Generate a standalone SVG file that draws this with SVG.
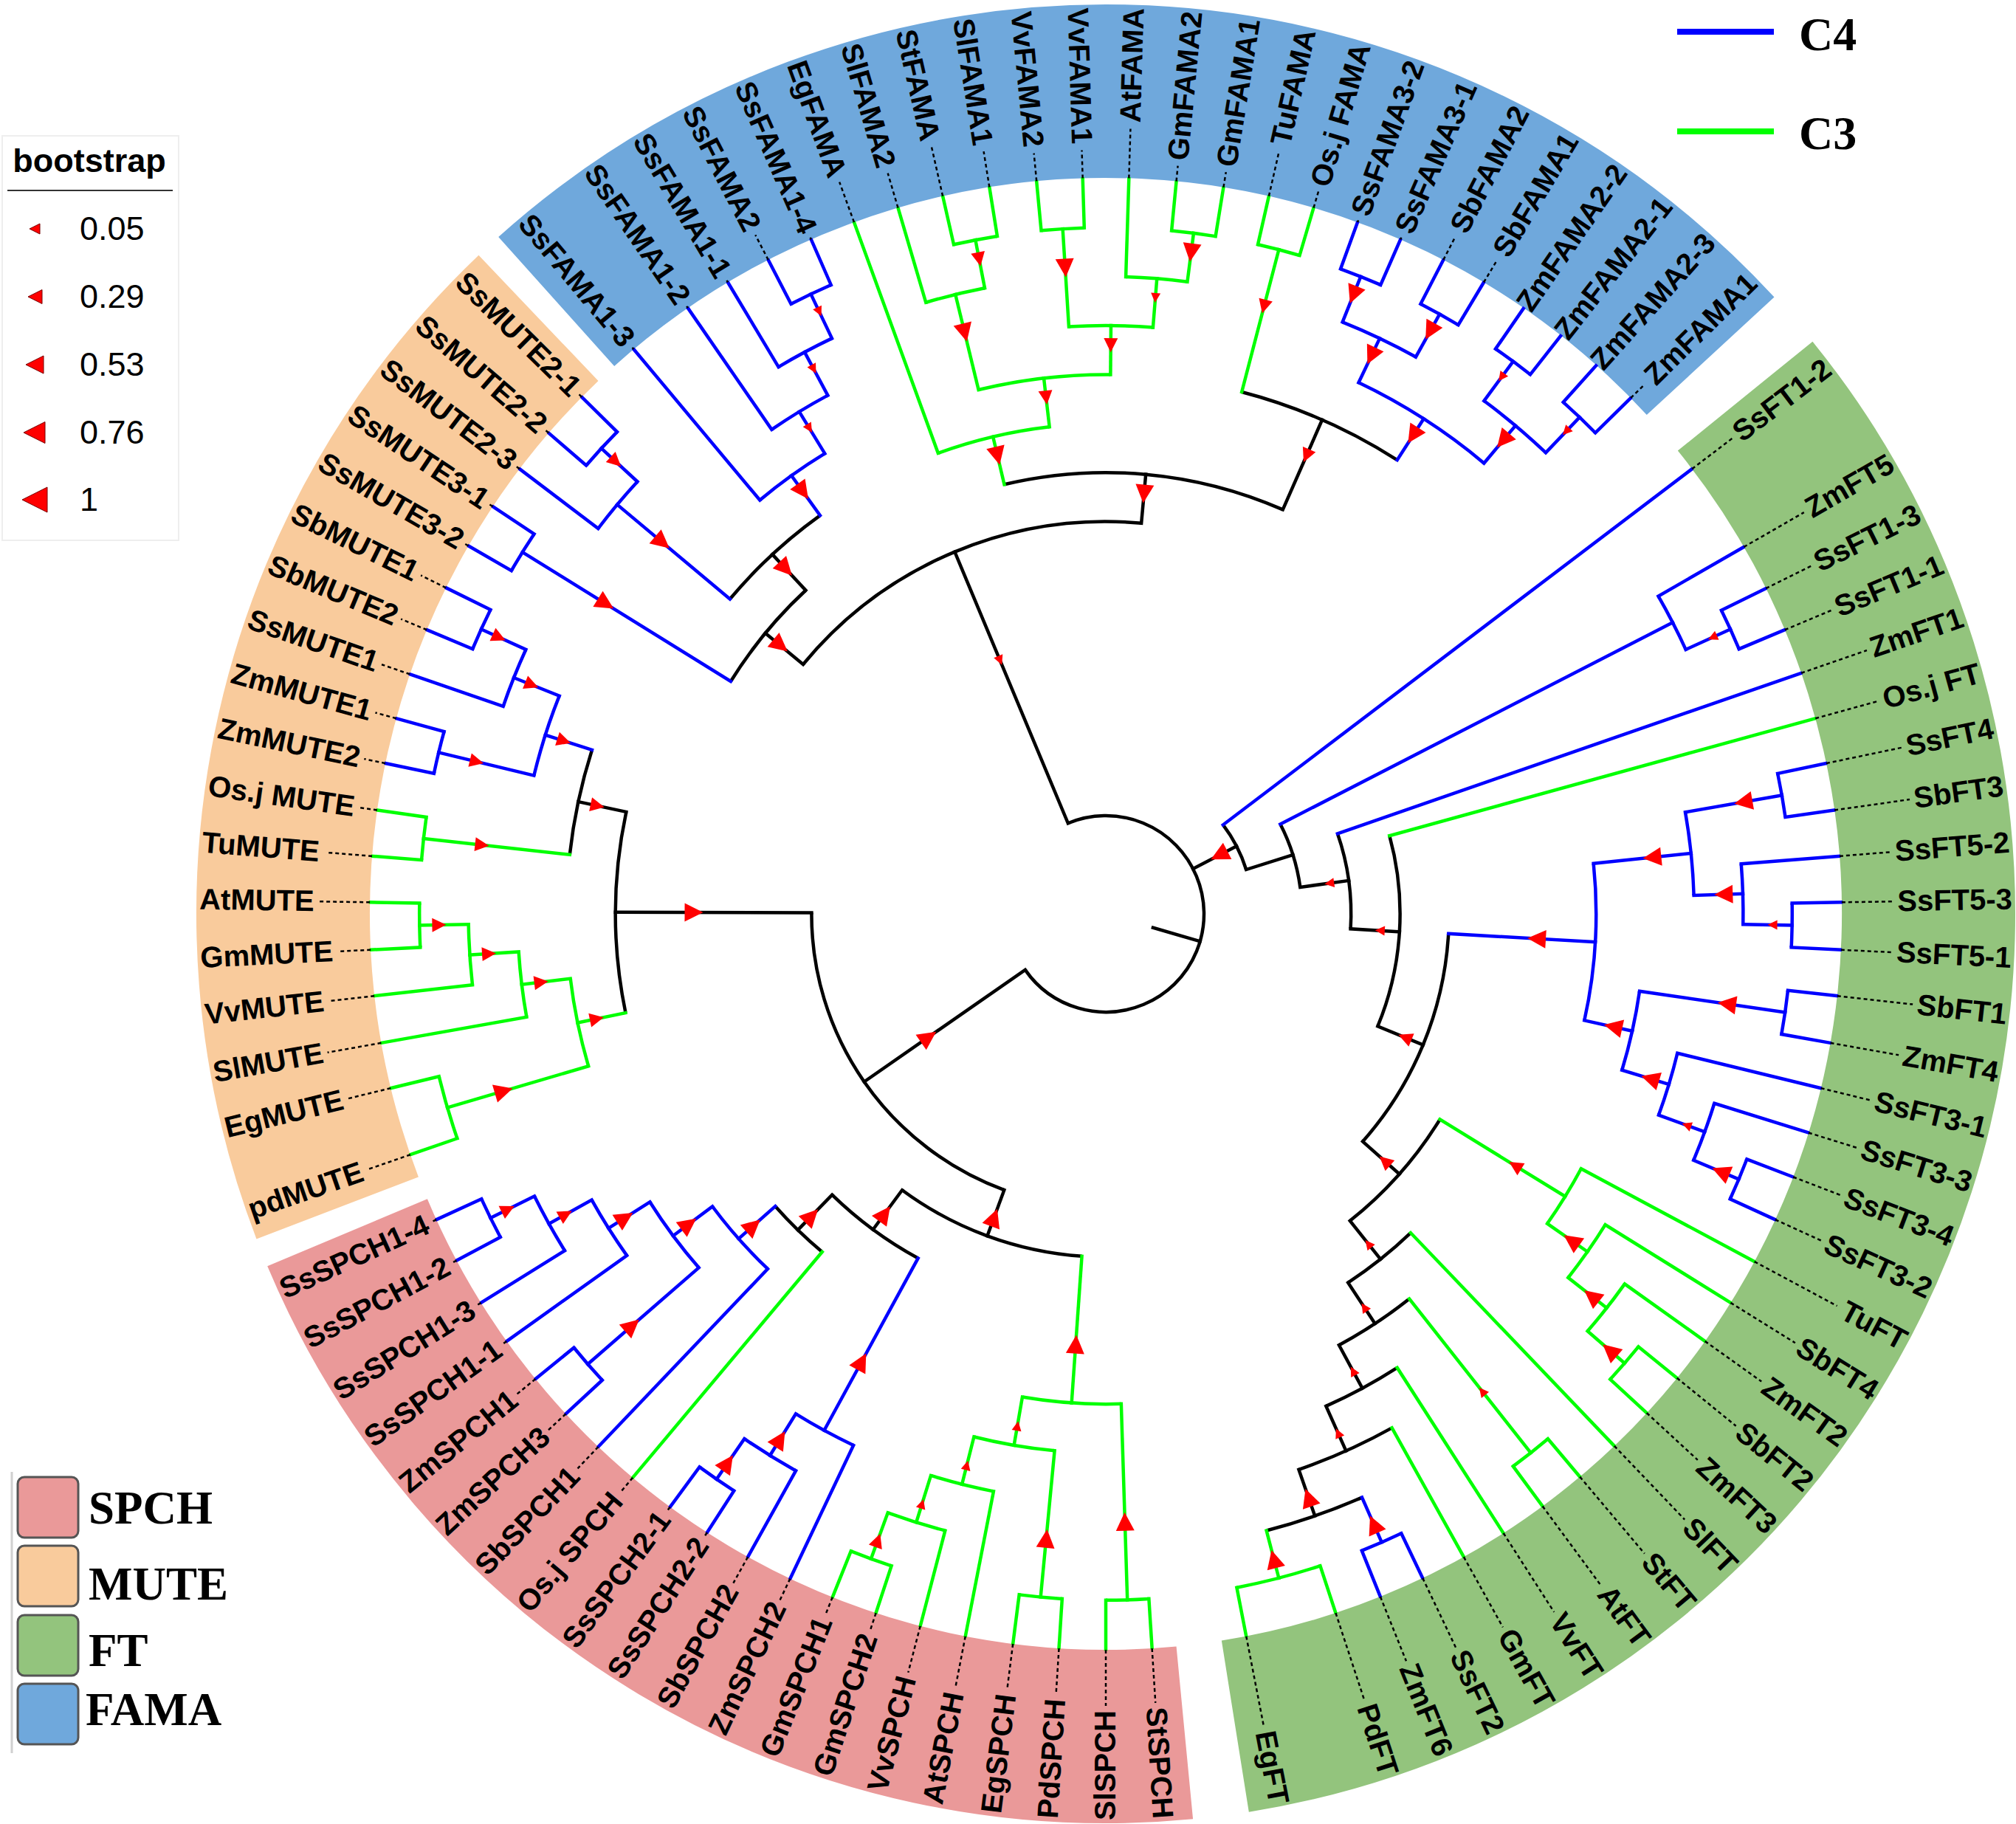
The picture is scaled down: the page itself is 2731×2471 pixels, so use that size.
<svg xmlns="http://www.w3.org/2000/svg" width="2731" height="2471" viewBox="0 0 2731 2471">
<defs>
<style>
.dl{fill:none;stroke:#000;stroke-width:2.5;stroke-dasharray:5 4}
.lb{font-family:"Liberation Sans",Arial,sans-serif;font-weight:bold;font-size:40px;fill:#000}
.R{text-anchor:end}
.arc{fill:none;stroke-width:4.5}
.br{fill:none;stroke-width:4.5;stroke-linecap:square}
.k{stroke:#000}.b{stroke:#0000ff}.g{stroke:#00ff00}
.band{fill:none;stroke-width:235}
.leg{font-family:"Liberation Serif","Times New Roman",serif;font-weight:bold;fill:#000}
.bs{font-family:"Liberation Sans",Arial,sans-serif;fill:#000}
</style>
<polygon id="tL" points="-12.5,0 12.5,-12.5 12.5,12.5" fill="#ff0000"/>
<polygon id="tM" points="-9.5,0 9.5,-9.5 9.5,9.5" fill="#ff0000"/>
<polygon id="tS" points="-6.5,0 6.5,-6.5 6.5,6.5" fill="#ff0000"/>
</defs>
<rect width="2731" height="2471" fill="#fff"/>
<g transform="translate(1498 1238)">
<g id="bands" class="band">
<circle r="1114.5" stroke="#F9CB9C" pathLength="360" stroke-dasharray="67.35 360" transform="rotate(159.05)"/>
<circle r="1114.5" stroke="#6FA8DC" pathLength="360" stroke-dasharray="89.2 360" transform="rotate(228.1)"/>
<circle r="1114.5" stroke="#93C47D" pathLength="360" stroke-dasharray="119.95 360" transform="rotate(321)"/>
<circle r="1114.5" stroke="#EA9999" pathLength="360" stroke-dasharray="72.7 360" transform="rotate(84.5)"/>
</g>
<g id="connectors">
<g class="br k">
<path d="M66.6 0H133" transform="rotate(16.3)"/>
<path d="M133 0H531.4" transform="rotate(247.35)"/>
<path d="M133 0H199.4" transform="rotate(332.65)"/>
<path d="M133 0H398.6" transform="rotate(145.2)"/>
<path d="M531.4 0H597.8" transform="rotate(219.5)"/>
<path d="M597.8 0H664.2" transform="rotate(227.15)"/>
<path d="M531.4 0H597.8" transform="rotate(275.2)"/>
<path d="M597.8 0H730.6" transform="rotate(293.65)"/>
<path d="M398.6 0H664.2" transform="rotate(180.2)"/>
<path d="M664.2 0H730.6" transform="rotate(192)"/>
<path d="M398.6 0H465" transform="rotate(110.2)"/>
<path d="M465 0H531.4" transform="rotate(126.4)"/>
<path d="M531.4 0H597.8" transform="rotate(134.25)"/>
<path d="M199.4 0H265.8" transform="rotate(342.5)"/>
<path d="M265.8 0H332.2" transform="rotate(352.2)"/>
<path d="M332.2 0H398.6" transform="rotate(3.5)"/>
<path d="M398.6 0H465" transform="rotate(22.45)"/>
<path d="M465 0H531.4" transform="rotate(41.55)"/>
<path d="M531.4 0H597.8" transform="rotate(51.5)"/>
<path d="M597.8 0H664.2" transform="rotate(56.7)"/>
<path d="M664.2 0H730.6" transform="rotate(61.6)"/>
<path d="M730.6 0H797" transform="rotate(65.9)"/>
<path d="M797 0H863.4" transform="rotate(70.85)"/>
</g>
<g class="arc k">
<circle r="133" pathLength="360" stroke-dasharray="257.85 360" transform="rotate(247.35)"/>
<circle r="531.4" pathLength="360" stroke-dasharray="55.7 360" transform="rotate(219.5)"/>
<circle r="597.8" pathLength="360" stroke-dasharray="15.35 360" transform="rotate(211.8)"/>
<circle r="664.2" pathLength="360" stroke-dasharray="14.4 360" transform="rotate(219.95)"/>
<circle r="597.8" pathLength="360" stroke-dasharray="36.95 360" transform="rotate(256.7)"/>
<circle r="730.6" pathLength="360" stroke-dasharray="18.1 360" transform="rotate(284.6)"/>
<circle r="398.6" pathLength="360" stroke-dasharray="70 360" transform="rotate(110.2)"/>
<circle r="664.2" pathLength="360" stroke-dasharray="23.65 360" transform="rotate(168.35)"/>
<circle r="730.6" pathLength="360" stroke-dasharray="11.4 360" transform="rotate(186.3)"/>
<circle r="465" pathLength="360" stroke-dasharray="32.4 360" transform="rotate(94)"/>
<circle r="531.4" pathLength="360" stroke-dasharray="15.65 360" transform="rotate(118.6)"/>
<circle r="597.8" pathLength="360" stroke-dasharray="8.5 360" transform="rotate(130)"/>
<circle r="199.4" pathLength="360" stroke-dasharray="19.7 360" transform="rotate(322.8)"/>
<circle r="265.8" pathLength="360" stroke-dasharray="19.4 360" transform="rotate(332.8)"/>
<circle r="332.2" pathLength="360" stroke-dasharray="22.6 360" transform="rotate(340.9)"/>
<circle r="398.6" pathLength="360" stroke-dasharray="37.85 360" transform="rotate(344.6)"/>
<circle r="465" pathLength="360" stroke-dasharray="38.25 360" transform="rotate(3.3)"/>
<circle r="531.4" pathLength="360" stroke-dasharray="19.9 360" transform="rotate(31.6)"/>
<circle r="597.8" pathLength="360" stroke-dasharray="10.4 360" transform="rotate(46.3)"/>
<circle r="664.2" pathLength="360" stroke-dasharray="9.85 360" transform="rotate(51.75)"/>
<circle r="730.6" pathLength="360" stroke-dasharray="8.6 360" transform="rotate(57.3)"/>
<circle r="797" pathLength="360" stroke-dasharray="9.95 360" transform="rotate(60.9)"/>
<circle r="863.4" pathLength="360" stroke-dasharray="9.1 360" transform="rotate(66.3)"/>
</g>
<g class="br b">
<path d="M597.8 0H929.8" transform="rotate(211.8)"/>
<path d="M664.2 0H863.4" transform="rotate(219.95)"/>
<path d="M863.4 0H929.8" transform="rotate(222.7)"/>
<path d="M664.2 0H730.6" transform="rotate(234.35)"/>
<path d="M730.6 0H797" transform="rotate(238.6)"/>
<path d="M797 0H863.4" transform="rotate(241.8)"/>
<path d="M863.4 0H929.8" transform="rotate(244.55)"/>
<path d="M730.6 0H797" transform="rotate(302.7)"/>
<path d="M797 0H863.4" transform="rotate(295.45)"/>
<path d="M797 0H863.4" transform="rotate(310)"/>
<path d="M863.4 0H929.8" transform="rotate(291.8)"/>
<path d="M863.4 0H929.8" transform="rotate(299.1)"/>
<path d="M863.4 0H929.8" transform="rotate(306.4)"/>
<path d="M863.4 0H929.8" transform="rotate(313.65)"/>
<path d="M730.6 0H797" transform="rotate(197.7)"/>
<path d="M797 0H929.8" transform="rotate(193.6)"/>
<path d="M797 0H863.4" transform="rotate(201.75)"/>
<path d="M863.4 0H929.8" transform="rotate(204.5)"/>
<path d="M531.4 0H797" transform="rotate(118.6)"/>
<path d="M797 0H863.4" transform="rotate(121.8)"/>
<path d="M863.4 0H929.8" transform="rotate(124.55)"/>
<path d="M597.8 0H664.2" transform="rotate(138.5)"/>
<path d="M664.2 0H730.6" transform="rotate(143.35)"/>
<path d="M730.6 0H929.8" transform="rotate(139)"/>
<path d="M730.6 0H797" transform="rotate(147.7)"/>
<path d="M797 0H863.4" transform="rotate(150.9)"/>
<path d="M863.4 0H929.8" transform="rotate(153.7)"/>
<path d="M265.8 0H863.4" transform="rotate(332.8)"/>
<path d="M863.4 0H929.8" transform="rotate(335.5)"/>
<path d="M465 0H664.2" transform="rotate(3.3)"/>
<path d="M664.2 0H797" transform="rotate(354.1)"/>
<path d="M797 0H929.8" transform="rotate(350.05)"/>
<path d="M797 0H863.4" transform="rotate(358.2)"/>
<path d="M863.4 0H929.8" transform="rotate(0.95)"/>
<path d="M664.2 0H730.6" transform="rotate(12.55)"/>
<path d="M730.6 0H929.8" transform="rotate(8.25)"/>
<path d="M730.6 0H797" transform="rotate(16.85)"/>
<path d="M797 0H863.4" transform="rotate(20)"/>
<path d="M863.4 0H929.8" transform="rotate(22.75)"/>
<path d="M863.4 0H929.8" transform="rotate(66.3)"/>
<path d="M929.8 0H996.2" transform="rotate(191.8)"/>
<path d="M929.8 0H996.2" transform="rotate(195.4)"/>
<path d="M863.4 0H996.2" transform="rotate(199)"/>
<path d="M929.8 0H996.2" transform="rotate(202.7)"/>
<path d="M929.8 0H996.2" transform="rotate(206.3)"/>
<path d="M929.8 0H996.2" transform="rotate(210)"/>
<path d="M929.8 0H996.2" transform="rotate(213.6)"/>
<path d="M863.4 0H996.2" transform="rotate(217.2)"/>
<path d="M929.8 0H996.2" transform="rotate(220.8)"/>
<path d="M929.8 0H996.2" transform="rotate(224.6)"/>
<path d="M730.6 0H996.2" transform="rotate(230.1)"/>
<path d="M797 0H996.2" transform="rotate(235.4)"/>
<path d="M863.4 0H996.2" transform="rotate(239.1)"/>
<path d="M929.8 0H996.2" transform="rotate(242.7)"/>
<path d="M929.8 0H996.2" transform="rotate(246.4)"/>
<path d="M929.8 0H996.2" transform="rotate(290)"/>
<path d="M929.8 0H996.2" transform="rotate(293.6)"/>
<path d="M929.8 0H996.2" transform="rotate(297.3)"/>
<path d="M929.8 0H996.2" transform="rotate(300.9)"/>
<path d="M929.8 0H996.2" transform="rotate(304.6)"/>
<path d="M929.8 0H996.2" transform="rotate(308.2)"/>
<path d="M929.8 0H996.2" transform="rotate(311.8)"/>
<path d="M929.8 0H996.2" transform="rotate(315.5)"/>
<path d="M199.4 0H996.2" transform="rotate(322.8)"/>
<path d="M863.4 0H996.2" transform="rotate(330.1)"/>
<path d="M929.8 0H996.2" transform="rotate(333.75)"/>
<path d="M929.8 0H996.2" transform="rotate(337.3)"/>
<path d="M332.2 0H996.2" transform="rotate(340.9)"/>
<path d="M929.8 0H996.2" transform="rotate(348.2)"/>
<path d="M929.8 0H996.2" transform="rotate(351.9)"/>
<path d="M863.4 0H996.2" transform="rotate(355.5)"/>
<path d="M929.8 0H996.2" transform="rotate(359.1)"/>
<path d="M929.8 0H996.2" transform="rotate(2.8)"/>
<path d="M929.8 0H996.2" transform="rotate(6.4)"/>
<path d="M929.8 0H996.2" transform="rotate(10.1)"/>
<path d="M797 0H996.2" transform="rotate(13.7)"/>
<path d="M863.4 0H996.2" transform="rotate(17.3)"/>
<path d="M929.8 0H996.2" transform="rotate(20.95)"/>
<path d="M929.8 0H996.2" transform="rotate(24.55)"/>
<path d="M929.8 0H996.2" transform="rotate(64.5)"/>
<path d="M929.8 0H996.2" transform="rotate(68.1)"/>
<path d="M797 0H996.2" transform="rotate(115.4)"/>
<path d="M863.4 0H996.2" transform="rotate(119.1)"/>
<path d="M929.8 0H996.2" transform="rotate(122.8)"/>
<path d="M929.8 0H996.2" transform="rotate(126.3)"/>
<path d="M664.2 0H996.2" transform="rotate(133.6)"/>
<path d="M929.8 0H996.2" transform="rotate(137.2)"/>
<path d="M929.8 0H996.2" transform="rotate(140.8)"/>
<path d="M797 0H996.2" transform="rotate(144.5)"/>
<path d="M863.4 0H996.2" transform="rotate(148.1)"/>
<path d="M929.8 0H996.2" transform="rotate(151.9)"/>
<path d="M929.8 0H996.2" transform="rotate(155.45)"/>
</g>
<g class="arc b">
<circle r="863.4" pathLength="360" stroke-dasharray="5.5 360" transform="rotate(217.2)"/>
<circle r="929.8" pathLength="360" stroke-dasharray="3.8 360" transform="rotate(220.8)"/>
<circle r="929.8" pathLength="360" stroke-dasharray="3.6 360" transform="rotate(210)"/>
<circle r="730.6" pathLength="360" stroke-dasharray="8.5 360" transform="rotate(230.1)"/>
<circle r="797" pathLength="360" stroke-dasharray="6.4 360" transform="rotate(235.4)"/>
<circle r="863.4" pathLength="360" stroke-dasharray="5.45 360" transform="rotate(239.1)"/>
<circle r="929.8" pathLength="360" stroke-dasharray="3.7 360" transform="rotate(242.7)"/>
<circle r="797" pathLength="360" stroke-dasharray="14.55 360" transform="rotate(295.45)"/>
<circle r="863.4" pathLength="360" stroke-dasharray="7.3 360" transform="rotate(291.8)"/>
<circle r="929.8" pathLength="360" stroke-dasharray="3.6 360" transform="rotate(290)"/>
<circle r="929.8" pathLength="360" stroke-dasharray="3.6 360" transform="rotate(297.3)"/>
<circle r="863.4" pathLength="360" stroke-dasharray="7.25 360" transform="rotate(306.4)"/>
<circle r="929.8" pathLength="360" stroke-dasharray="3.6 360" transform="rotate(304.6)"/>
<circle r="929.8" pathLength="360" stroke-dasharray="3.7 360" transform="rotate(311.8)"/>
<circle r="797" pathLength="360" stroke-dasharray="8.15 360" transform="rotate(193.6)"/>
<circle r="929.8" pathLength="360" stroke-dasharray="3.6 360" transform="rotate(191.8)"/>
<circle r="863.4" pathLength="360" stroke-dasharray="5.5 360" transform="rotate(199)"/>
<circle r="929.8" pathLength="360" stroke-dasharray="3.6 360" transform="rotate(202.7)"/>
<circle r="797" pathLength="360" stroke-dasharray="6.4 360" transform="rotate(115.4)"/>
<circle r="863.4" pathLength="360" stroke-dasharray="5.45 360" transform="rotate(119.1)"/>
<circle r="929.8" pathLength="360" stroke-dasharray="3.5 360" transform="rotate(122.8)"/>
<circle r="664.2" pathLength="360" stroke-dasharray="9.75 360" transform="rotate(133.6)"/>
<circle r="730.6" pathLength="360" stroke-dasharray="8.7 360" transform="rotate(139)"/>
<circle r="929.8" pathLength="360" stroke-dasharray="3.6 360" transform="rotate(137.2)"/>
<circle r="797" pathLength="360" stroke-dasharray="6.4 360" transform="rotate(144.5)"/>
<circle r="863.4" pathLength="360" stroke-dasharray="5.6 360" transform="rotate(148.1)"/>
<circle r="929.8" pathLength="360" stroke-dasharray="3.55 360" transform="rotate(151.9)"/>
<circle r="863.4" pathLength="360" stroke-dasharray="5.4 360" transform="rotate(330.1)"/>
<circle r="929.8" pathLength="360" stroke-dasharray="3.55 360" transform="rotate(333.75)"/>
<circle r="664.2" pathLength="360" stroke-dasharray="18.45 360" transform="rotate(354.1)"/>
<circle r="797" pathLength="360" stroke-dasharray="8.15 360" transform="rotate(350.05)"/>
<circle r="929.8" pathLength="360" stroke-dasharray="3.7 360" transform="rotate(348.2)"/>
<circle r="863.4" pathLength="360" stroke-dasharray="5.45 360" transform="rotate(355.5)"/>
<circle r="929.8" pathLength="360" stroke-dasharray="3.7 360" transform="rotate(359.1)"/>
<circle r="730.6" pathLength="360" stroke-dasharray="8.6 360" transform="rotate(8.25)"/>
<circle r="929.8" pathLength="360" stroke-dasharray="3.7 360" transform="rotate(6.4)"/>
<circle r="797" pathLength="360" stroke-dasharray="6.3 360" transform="rotate(13.7)"/>
<circle r="863.4" pathLength="360" stroke-dasharray="5.45 360" transform="rotate(17.3)"/>
<circle r="929.8" pathLength="360" stroke-dasharray="3.6 360" transform="rotate(20.95)"/>
<circle r="929.8" pathLength="360" stroke-dasharray="3.6 360" transform="rotate(64.5)"/>
</g>
<g class="br g">
<path d="M597.8 0H664.2" transform="rotate(256.7)"/>
<path d="M664.2 0H730.6" transform="rotate(263.4)"/>
<path d="M730.6 0H863.4" transform="rotate(256.35)"/>
<path d="M863.4 0H929.8" transform="rotate(259.05)"/>
<path d="M730.6 0H797" transform="rotate(270.5)"/>
<path d="M797 0H929.8" transform="rotate(266.4)"/>
<path d="M797 0H863.4" transform="rotate(274.6)"/>
<path d="M863.4 0H929.8" transform="rotate(277.35)"/>
<path d="M730.6 0H929.8" transform="rotate(284.6)"/>
<path d="M664.2 0H730.6" transform="rotate(168.35)"/>
<path d="M730.6 0H929.8" transform="rotate(163.6)"/>
<path d="M730.6 0H797" transform="rotate(173.1)"/>
<path d="M797 0H863.4" transform="rotate(176.3)"/>
<path d="M863.4 0H929.8" transform="rotate(179.05)"/>
<path d="M730.6 0H929.8" transform="rotate(186.3)"/>
<path d="M465 0H664.2" transform="rotate(94)"/>
<path d="M664.2 0H929.8" transform="rotate(88.2)"/>
<path d="M664.2 0H730.6" transform="rotate(99.8)"/>
<path d="M730.6 0H929.8" transform="rotate(95.45)"/>
<path d="M730.6 0H797" transform="rotate(104.15)"/>
<path d="M797 0H863.4" transform="rotate(107.3)"/>
<path d="M863.4 0H929.8" transform="rotate(110)"/>
<path d="M531.4 0H730.6" transform="rotate(31.6)"/>
<path d="M730.6 0H797" transform="rotate(35.05)"/>
<path d="M797 0H863.4" transform="rotate(38.2)"/>
<path d="M863.4 0H929.8" transform="rotate(40.9)"/>
<path d="M664.2 0H929.8" transform="rotate(51.75)"/>
<path d="M863.4 0H929.8" transform="rotate(75.4)"/>
<path d="M929.8 0H996.2" transform="rotate(160.9)"/>
<path d="M929.8 0H996.2" transform="rotate(166.3)"/>
<path d="M797 0H996.2" transform="rotate(169.9)"/>
<path d="M863.4 0H996.2" transform="rotate(173.6)"/>
<path d="M929.8 0H996.2" transform="rotate(177.2)"/>
<path d="M929.8 0H996.2" transform="rotate(180.9)"/>
<path d="M929.8 0H996.2" transform="rotate(184.5)"/>
<path d="M929.8 0H996.2" transform="rotate(188.1)"/>
<path d="M664.2 0H996.2" transform="rotate(250)"/>
<path d="M863.4 0H996.2" transform="rotate(253.6)"/>
<path d="M929.8 0H996.2" transform="rotate(257.2)"/>
<path d="M929.8 0H996.2" transform="rotate(260.9)"/>
<path d="M929.8 0H996.2" transform="rotate(264.6)"/>
<path d="M929.8 0H996.2" transform="rotate(268.2)"/>
<path d="M863.4 0H996.2" transform="rotate(271.8)"/>
<path d="M929.8 0H996.2" transform="rotate(275.5)"/>
<path d="M929.8 0H996.2" transform="rotate(279.2)"/>
<path d="M929.8 0H996.2" transform="rotate(282.8)"/>
<path d="M929.8 0H996.2" transform="rotate(286.4)"/>
<path d="M398.6 0H996.2" transform="rotate(344.6)"/>
<path d="M730.6 0H996.2" transform="rotate(28.2)"/>
<path d="M797 0H996.2" transform="rotate(31.9)"/>
<path d="M863.4 0H996.2" transform="rotate(35.5)"/>
<path d="M929.8 0H996.2" transform="rotate(39.1)"/>
<path d="M929.8 0H996.2" transform="rotate(42.7)"/>
<path d="M597.8 0H996.2" transform="rotate(46.3)"/>
<path d="M929.8 0H996.2" transform="rotate(49.9)"/>
<path d="M929.8 0H996.2" transform="rotate(53.6)"/>
<path d="M730.6 0H996.2" transform="rotate(57.3)"/>
<path d="M797 0H996.2" transform="rotate(60.9)"/>
<path d="M929.8 0H996.2" transform="rotate(71.8)"/>
<path d="M929.8 0H996.2" transform="rotate(79)"/>
<path d="M929.8 0H996.2" transform="rotate(86.4)"/>
<path d="M929.8 0H996.2" transform="rotate(90)"/>
<path d="M929.8 0H996.2" transform="rotate(93.65)"/>
<path d="M929.8 0H996.2" transform="rotate(97.25)"/>
<path d="M797 0H996.2" transform="rotate(101)"/>
<path d="M863.4 0H996.2" transform="rotate(104.6)"/>
<path d="M929.8 0H996.2" transform="rotate(108.2)"/>
<path d="M929.8 0H996.2" transform="rotate(111.8)"/>
<path d="M597.8 0H996.2" transform="rotate(130)"/>
</g>
<g class="arc g">
<circle r="664.2" pathLength="360" stroke-dasharray="13.4 360" transform="rotate(250)"/>
<circle r="730.6" pathLength="360" stroke-dasharray="14.15 360" transform="rotate(256.35)"/>
<circle r="863.4" pathLength="360" stroke-dasharray="5.45 360" transform="rotate(253.6)"/>
<circle r="929.8" pathLength="360" stroke-dasharray="3.7 360" transform="rotate(257.2)"/>
<circle r="797" pathLength="360" stroke-dasharray="8.2 360" transform="rotate(266.4)"/>
<circle r="929.8" pathLength="360" stroke-dasharray="3.6 360" transform="rotate(264.6)"/>
<circle r="863.4" pathLength="360" stroke-dasharray="5.55 360" transform="rotate(271.8)"/>
<circle r="929.8" pathLength="360" stroke-dasharray="3.7 360" transform="rotate(275.5)"/>
<circle r="929.8" pathLength="360" stroke-dasharray="3.6 360" transform="rotate(282.8)"/>
<circle r="730.6" pathLength="360" stroke-dasharray="9.5 360" transform="rotate(163.6)"/>
<circle r="929.8" pathLength="360" stroke-dasharray="5.4 360" transform="rotate(160.9)"/>
<circle r="797" pathLength="360" stroke-dasharray="6.4 360" transform="rotate(169.9)"/>
<circle r="863.4" pathLength="360" stroke-dasharray="5.45 360" transform="rotate(173.6)"/>
<circle r="929.8" pathLength="360" stroke-dasharray="3.7 360" transform="rotate(177.2)"/>
<circle r="929.8" pathLength="360" stroke-dasharray="3.6 360" transform="rotate(184.5)"/>
<circle r="664.2" pathLength="360" stroke-dasharray="11.6 360" transform="rotate(88.2)"/>
<circle r="929.8" pathLength="360" stroke-dasharray="3.6 360" transform="rotate(86.4)"/>
<circle r="730.6" pathLength="360" stroke-dasharray="8.7 360" transform="rotate(95.45)"/>
<circle r="929.8" pathLength="360" stroke-dasharray="3.6 360" transform="rotate(93.65)"/>
<circle r="797" pathLength="360" stroke-dasharray="6.3 360" transform="rotate(101)"/>
<circle r="863.4" pathLength="360" stroke-dasharray="5.4 360" transform="rotate(104.6)"/>
<circle r="929.8" pathLength="360" stroke-dasharray="3.6 360" transform="rotate(108.2)"/>
<circle r="730.6" pathLength="360" stroke-dasharray="6.85 360" transform="rotate(28.2)"/>
<circle r="797" pathLength="360" stroke-dasharray="6.3 360" transform="rotate(31.9)"/>
<circle r="863.4" pathLength="360" stroke-dasharray="5.4 360" transform="rotate(35.5)"/>
<circle r="929.8" pathLength="360" stroke-dasharray="3.6 360" transform="rotate(39.1)"/>
<circle r="929.8" pathLength="360" stroke-dasharray="3.7 360" transform="rotate(49.9)"/>
<circle r="929.8" pathLength="360" stroke-dasharray="7.2 360" transform="rotate(71.8)"/>
</g>
<g id="bootstrap-marks">
<use href="#tS" transform="rotate(247.35) translate(372)"/>
<use href="#tL" transform="rotate(332.65) translate(172.8)"/>
<use href="#tL" transform="rotate(145.2) translate(292.4)"/>
<use href="#tL" transform="rotate(219.5) translate(571.2)"/>
<use href="#tL" transform="rotate(275.2) translate(571.2)"/>
<use href="#tL" transform="rotate(227.15) translate(637.6)"/>
<use href="#tL" transform="rotate(211.8) translate(797)"/>
<use href="#tL" transform="rotate(219.95) translate(783.7)"/>
<use href="#tM" transform="rotate(222.7) translate(903.2)"/>
<use href="#tL" transform="rotate(234.35) translate(704)"/>
<use href="#tS" transform="rotate(238.6) translate(770.4)"/>
<use href="#tS" transform="rotate(241.8) translate(837.2)"/>
<use href="#tS" transform="rotate(244.55) translate(903.2)"/>
<use href="#tL" transform="rotate(256.7) translate(637.6)"/>
<use href="#tM" transform="rotate(263.4) translate(704)"/>
<use href="#tL" transform="rotate(256.35) translate(810.3)"/>
<use href="#tM" transform="rotate(259.05) translate(903.2)"/>
<use href="#tM" transform="rotate(270.5) translate(770.4)"/>
<use href="#tL" transform="rotate(266.4) translate(876.7)"/>
<use href="#tS" transform="rotate(274.6) translate(837.2)"/>
<use href="#tL" transform="rotate(277.35) translate(903.2)"/>
<use href="#tM" transform="rotate(293.65) translate(677.5)"/>
<use href="#tM" transform="rotate(284.6) translate(850.1)"/>
<use href="#tL" transform="rotate(302.7) translate(770.4)"/>
<use href="#tL" transform="rotate(295.45) translate(837.2)"/>
<use href="#tL" transform="rotate(310) translate(837.2)"/>
<use href="#tL" transform="rotate(291.8) translate(903.2)"/>
<use href="#tL" transform="rotate(299.1) translate(903.2)"/>
<use href="#tS" transform="rotate(306.4) translate(903.2)"/>
<use href="#tS" transform="rotate(313.65) translate(903.2)"/>
<use href="#tL" transform="rotate(180.2) translate(558)"/>
<use href="#tM" transform="rotate(168.35) translate(704)"/>
<use href="#tM" transform="rotate(192) translate(704)"/>
<use href="#tL" transform="rotate(163.6) translate(850.1)"/>
<use href="#tM" transform="rotate(173.1) translate(770.4)"/>
<use href="#tM" transform="rotate(176.3) translate(837.2)"/>
<use href="#tM" transform="rotate(179.05) translate(903.2)"/>
<use href="#tM" transform="rotate(186.3) translate(850.1)"/>
<use href="#tM" transform="rotate(197.7) translate(770.4)"/>
<use href="#tM" transform="rotate(193.6) translate(876.7)"/>
<use href="#tM" transform="rotate(201.75) translate(837.2)"/>
<use href="#tM" transform="rotate(204.5) translate(903.2)"/>
<use href="#tL" transform="rotate(110.2) translate(438.4)"/>
<use href="#tL" transform="rotate(94) translate(584.5)"/>
<use href="#tL" transform="rotate(126.4) translate(504.8)"/>
<use href="#tL" transform="rotate(88.2) translate(823.6)"/>
<use href="#tS" transform="rotate(99.8) translate(704)"/>
<use href="#tL" transform="rotate(95.45) translate(850.1)"/>
<use href="#tS" transform="rotate(104.15) translate(770.4)"/>
<use href="#tS" transform="rotate(107.3) translate(837.2)"/>
<use href="#tM" transform="rotate(110) translate(903.2)"/>
<use href="#tL" transform="rotate(118.6) translate(690.8)"/>
<use href="#tL" transform="rotate(121.8) translate(837.2)"/>
<use href="#tL" transform="rotate(124.55) translate(903.2)"/>
<use href="#tL" transform="rotate(134.25) translate(571.2)"/>
<use href="#tL" transform="rotate(138.5) translate(637.6)"/>
<use href="#tL" transform="rotate(143.35) translate(704)"/>
<use href="#tL" transform="rotate(139) translate(850.1)"/>
<use href="#tL" transform="rotate(147.7) translate(770.4)"/>
<use href="#tM" transform="rotate(150.9) translate(837.2)"/>
<use href="#tM" transform="rotate(153.7) translate(903.2)"/>
<use href="#tS" transform="rotate(352.2) translate(305.6)"/>
<use href="#tS" transform="rotate(3.5) translate(372)"/>
<use href="#tM" transform="rotate(22.45) translate(438.4)"/>
<use href="#tL" transform="rotate(3.3) translate(584.5)"/>
<use href="#tL" transform="rotate(354.1) translate(743.9)"/>
<use href="#tL" transform="rotate(350.05) translate(876.7)"/>
<use href="#tL" transform="rotate(358.2) translate(837.2)"/>
<use href="#tS" transform="rotate(0.95) translate(903.2)"/>
<use href="#tL" transform="rotate(12.55) translate(704)"/>
<use href="#tL" transform="rotate(8.25) translate(850.1)"/>
<use href="#tL" transform="rotate(16.85) translate(770.4)"/>
<use href="#tS" transform="rotate(20) translate(837.2)"/>
<use href="#tL" transform="rotate(22.75) translate(903.2)"/>
<use href="#tS" transform="rotate(335.5) translate(903.2)"/>
<use href="#tM" transform="rotate(41.55) translate(504.8)"/>
<use href="#tM" transform="rotate(31.6) translate(650.9)"/>
<use href="#tL" transform="rotate(35.05) translate(770.4)"/>
<use href="#tL" transform="rotate(38.2) translate(837.2)"/>
<use href="#tL" transform="rotate(40.9) translate(903.2)"/>
<use href="#tS" transform="rotate(51.5) translate(571.2)"/>
<use href="#tS" transform="rotate(56.7) translate(637.6)"/>
<use href="#tS" transform="rotate(51.75) translate(823.6)"/>
<use href="#tS" transform="rotate(61.6) translate(704)"/>
<use href="#tS" transform="rotate(65.9) translate(770.4)"/>
<use href="#tL" transform="rotate(70.85) translate(837.2)"/>
<use href="#tL" transform="rotate(66.3) translate(903.2)"/>
<use href="#tL" transform="rotate(75.4) translate(903.2)"/>
</g>
</g>
<g id="leaves" class="lb">
<g id="n-pdMUTE"><path class="dl" d="M997 0H1060" transform="rotate(160.9)"/><text transform="rotate(160.9) translate(1228) rotate(180)" y="13">pdMUTE</text></g>
<g id="n-EgMUTE"><path class="dl" d="M997 0H1057.6" transform="rotate(166.3)"/><text transform="rotate(166.3) translate(1228) rotate(180)" y="13">EgMUTE</text></g>
<g id="n-SlMUTE"><path class="dl" d="M997 0H1071" transform="rotate(169.9)"/><text transform="rotate(169.9) translate(1228) rotate(180)" y="13">SlMUTE</text></g>
<g id="n-VvMUTE"><path class="dl" d="M997 0H1060" transform="rotate(173.6)"/><text transform="rotate(173.6) translate(1228) rotate(180)" y="13">VvMUTE</text></g>
<g id="n-GmMUTE"><path class="dl" d="M997 0H1042" transform="rotate(177.2)"/><text transform="rotate(177.2) translate(1228) rotate(180)" y="13">GmMUTE</text></g>
<g id="n-AtMUTE"><path class="dl" d="M997 0H1066.5" transform="rotate(180.9)"/><text transform="rotate(180.9) translate(1228) rotate(180)" y="13">AtMUTE</text></g>
<g id="n-TuMUTE"><path class="dl" d="M997 0H1060" transform="rotate(184.5)"/><text transform="rotate(184.5) translate(1228) rotate(180)" y="13">TuMUTE</text></g>
<g id="n-Osj-MUTE"><path class="dl" d="M997 0H1022" transform="rotate(188.1)"/><text transform="rotate(188.1) translate(1228) rotate(180)" y="13">Os.j MUTE</text></g>
<g id="n-ZmMUTE2"><path class="dl" d="M997 0H1026.4" transform="rotate(191.8)"/><text transform="rotate(191.8) translate(1228) rotate(180)" y="13">ZmMUTE2</text></g>
<g id="n-ZmMUTE1"><path class="dl" d="M997 0H1026.4" transform="rotate(195.4)"/><text transform="rotate(195.4) translate(1228) rotate(180)" y="13">ZmMUTE1</text></g>
<g id="n-SsMUTE1"><path class="dl" d="M997 0H1037.5" transform="rotate(199)"/><text transform="rotate(199) translate(1228) rotate(180)" y="13">SsMUTE1</text></g>
<g id="n-SbMUTE2"><path class="dl" d="M997 0H1035" transform="rotate(202.7)"/><text transform="rotate(202.7) translate(1228) rotate(180)" y="13">SbMUTE2</text></g>
<g id="n-SbMUTE1"><path class="dl" d="M997 0H1035" transform="rotate(206.3)"/><text transform="rotate(206.3) translate(1228) rotate(180)" y="13">SbMUTE1</text></g>
<g id="n-SsMUTE3-2"><path class="dl" d="M997 0H1002" transform="rotate(210)"/><text transform="rotate(210) translate(1228) rotate(180)" y="13">SsMUTE3-2</text></g>
<g id="n-SsMUTE3-1"><path class="dl" d="M997 0H1002" transform="rotate(213.6)"/><text transform="rotate(213.6) translate(1228) rotate(180)" y="13">SsMUTE3-1</text></g>
<g id="n-SsMUTE2-3"><path class="dl" d="M997 0H1002" transform="rotate(217.2)"/><text transform="rotate(217.2) translate(1228) rotate(180)" y="13">SsMUTE2-3</text></g>
<g id="n-SsMUTE2-2"><path class="dl" d="M997 0H1002" transform="rotate(220.8)"/><text transform="rotate(220.8) translate(1228) rotate(180)" y="13">SsMUTE2-2</text></g>
<g id="n-SsMUTE2-1"><path class="dl" d="M997 0H1002" transform="rotate(224.6)"/><text transform="rotate(224.6) translate(1228) rotate(180)" y="13">SsMUTE2-1</text></g>
<g id="n-SsFAMA1-3"><path class="dl" d="M997 0H1000" transform="rotate(230.1)"/><text transform="rotate(230.1) translate(1228) rotate(180)" y="13">SsFAMA1-3</text></g>
<g id="n-SsFAMA1-2"><path class="dl" d="M997 0H1000" transform="rotate(235.4)"/><text transform="rotate(235.4) translate(1228) rotate(180)" y="13">SsFAMA1-2</text></g>
<g id="n-SsFAMA1-1"><path class="dl" d="M997 0H1000" transform="rotate(239.1)"/><text transform="rotate(239.1) translate(1228) rotate(180)" y="13">SsFAMA1-1</text></g>
<g id="n-SsFAMA2"><path class="dl" d="M997 0H1035" transform="rotate(242.7)"/><text transform="rotate(242.7) translate(1228) rotate(180)" y="13">SsFAMA2</text></g>
<g id="n-SsFAMA1-4"><path class="dl" d="M997 0H1000" transform="rotate(246.4)"/><text transform="rotate(246.4) translate(1228) rotate(180)" y="13">SsFAMA1-4</text></g>
<g id="n-EgFAMA"><path class="dl" d="M997 0H1055" transform="rotate(250)"/><text transform="rotate(250) translate(1228) rotate(180)" y="13">EgFAMA</text></g>
<g id="n-SlFAMA2"><path class="dl" d="M997 0H1046" transform="rotate(253.6)"/><text transform="rotate(253.6) translate(1228) rotate(180)" y="13">SlFAMA2</text></g>
<g id="n-StFAMA"><path class="dl" d="M997 0H1066.5" transform="rotate(257.2)"/><text transform="rotate(257.2) translate(1228) rotate(180)" y="13">StFAMA</text></g>
<g id="n-SlFAMA1"><path class="dl" d="M997 0H1046" transform="rotate(260.9)"/><text transform="rotate(260.9) translate(1228) rotate(180)" y="13">SlFAMA1</text></g>
<g id="n-VvFAMA2"><path class="dl" d="M997 0H1035" transform="rotate(264.6)"/><text transform="rotate(264.6) translate(1228) rotate(180)" y="13">VvFAMA2</text></g>
<g id="n-VvFAMA1"><path class="dl" d="M997 0H1035" transform="rotate(268.2)"/><text transform="rotate(268.2) translate(1228) rotate(180)" y="13">VvFAMA1</text></g>
<g id="n-AtFAMA"><path class="dl" d="M997 0H1064" transform="rotate(271.8)"/><text class="R" transform="rotate(271.8) translate(1228)" y="13">AtFAMA</text></g>
<g id="n-GmFAMA2"><path class="dl" d="M997 0H1018" transform="rotate(275.5)"/><text class="R" transform="rotate(275.5) translate(1228)" y="13">GmFAMA2</text></g>
<g id="n-GmFAMA1"><path class="dl" d="M997 0H1018" transform="rotate(279.2)"/><text class="R" transform="rotate(279.2) translate(1228)" y="13">GmFAMA1</text></g>
<g id="n-TuFAMA"><path class="dl" d="M997 0H1058" transform="rotate(282.8)"/><text class="R" transform="rotate(282.8) translate(1228)" y="13">TuFAMA</text></g>
<g id="n-Osj-FAMA"><path class="dl" d="M997 0H1020" transform="rotate(286.4)"/><text class="R" transform="rotate(286.4) translate(1228)" y="13">Os.j FAMA</text></g>
<g id="n-SsFAMA3-2"><path class="dl" d="M997 0H1000" transform="rotate(290)"/><text class="R" transform="rotate(290) translate(1228)" y="13">SsFAMA3-2</text></g>
<g id="n-SsFAMA3-1"><path class="dl" d="M997 0H1000" transform="rotate(293.6)"/><text class="R" transform="rotate(293.6) translate(1228)" y="13">SsFAMA3-1</text></g>
<g id="n-SbFAMA2"><path class="dl" d="M997 0H1033" transform="rotate(297.3)"/><text class="R" transform="rotate(297.3) translate(1228)" y="13">SbFAMA2</text></g>
<g id="n-SbFAMA1"><path class="dl" d="M997 0H1033" transform="rotate(300.9)"/><text class="R" transform="rotate(300.9) translate(1228)" y="13">SbFAMA1</text></g>
<g id="n-ZmFAMA2-2"><text class="R" transform="rotate(304.6) translate(1228)" y="13">ZmFAMA2-2</text></g>
<g id="n-ZmFAMA2-1"><text class="R" transform="rotate(308.2) translate(1228)" y="13">ZmFAMA2-1</text></g>
<g id="n-ZmFAMA2-3"><text class="R" transform="rotate(311.8) translate(1228)" y="13">ZmFAMA2-3</text></g>
<g id="n-ZmFAMA1"><path class="dl" d="M997 0H1024" transform="rotate(315.5)"/><text class="R" transform="rotate(315.5) translate(1228)" y="13">ZmFAMA1</text></g>
<g id="n-SsFT1-2"><path class="dl" d="M997 0H1066" transform="rotate(322.8)"/><text class="R" transform="rotate(322.8) translate(1228)" y="13">SsFT1-2</text></g>
<g id="n-ZmFT5"><path class="dl" d="M997 0H1091" transform="rotate(330.1)"/><text class="R" transform="rotate(330.1) translate(1228)" y="13">ZmFT5</text></g>
<g id="n-SsFT1-3"><path class="dl" d="M997 0H1066" transform="rotate(333.75)"/><text class="R" transform="rotate(333.75) translate(1228)" y="13">SsFT1-3</text></g>
<g id="n-SsFT1-1"><path class="dl" d="M997 0H1066" transform="rotate(337.3)"/><text class="R" transform="rotate(337.3) translate(1228)" y="13">SsFT1-1</text></g>
<g id="n-ZmFT1"><path class="dl" d="M997 0H1091" transform="rotate(340.9)"/><text class="R" transform="rotate(340.9) translate(1228)" y="13">ZmFT1</text></g>
<g id="n-Osj-FT"><path class="dl" d="M997 0H1086" transform="rotate(344.6)"/><text class="R" transform="rotate(344.6) translate(1228)" y="13">Os.j FT</text></g>
<g id="n-SsFT4"><path class="dl" d="M997 0H1102" transform="rotate(348.2)"/><text class="R" transform="rotate(348.2) translate(1228)" y="13">SsFT4</text></g>
<g id="n-SbFT3"><path class="dl" d="M997 0H1100" transform="rotate(351.9)"/><text class="R" transform="rotate(351.9) translate(1228)" y="13">SbFT3</text></g>
<g id="n-SsFT5-2"><path class="dl" d="M997 0H1066" transform="rotate(355.5)"/><text class="R" transform="rotate(355.5) translate(1228)" y="13">SsFT5-2</text></g>
<g id="n-SsFT5-3"><path class="dl" d="M997 0H1066" transform="rotate(359.1)"/><text class="R" transform="rotate(359.1) translate(1228)" y="13">SsFT5-3</text></g>
<g id="n-SsFT5-1"><path class="dl" d="M997 0H1066" transform="rotate(2.8)"/><text class="R" transform="rotate(2.8) translate(1228)" y="13">SsFT5-1</text></g>
<g id="n-SbFT1"><path class="dl" d="M997 0H1100" transform="rotate(6.4)"/><text class="R" transform="rotate(6.4) translate(1228)" y="13">SbFT1</text></g>
<g id="n-ZmFT4"><path class="dl" d="M997 0H1091" transform="rotate(10.1)"/><text class="R" transform="rotate(10.1) translate(1228)" y="13">ZmFT4</text></g>
<g id="n-SsFT3-1"><path class="dl" d="M997 0H1066" transform="rotate(13.7)"/><text class="R" transform="rotate(13.7) translate(1228)" y="13">SsFT3-1</text></g>
<g id="n-SsFT3-3"><path class="dl" d="M997 0H1066" transform="rotate(17.3)"/><text class="R" transform="rotate(17.3) translate(1228)" y="13">SsFT3-3</text></g>
<g id="n-SsFT3-4"><path class="dl" d="M997 0H1066" transform="rotate(20.95)"/><text class="R" transform="rotate(20.95) translate(1228)" y="13">SsFT3-4</text></g>
<g id="n-SsFT3-2"><path class="dl" d="M997 0H1066" transform="rotate(24.55)"/><text class="R" transform="rotate(24.55) translate(1228)" y="13">SsFT3-2</text></g>
<g id="n-TuFT"><path class="dl" d="M997 0H1124" transform="rotate(28.2)"/><text class="R" transform="rotate(28.2) translate(1228)" y="13">TuFT</text></g>
<g id="n-SbFT4"><path class="dl" d="M997 0H1100" transform="rotate(31.9)"/><text class="R" transform="rotate(31.9) translate(1228)" y="13">SbFT4</text></g>
<g id="n-ZmFT2"><path class="dl" d="M997 0H1091" transform="rotate(35.5)"/><text class="R" transform="rotate(35.5) translate(1228)" y="13">ZmFT2</text></g>
<g id="n-SbFT2"><path class="dl" d="M997 0H1100" transform="rotate(39.1)"/><text class="R" transform="rotate(39.1) translate(1228)" y="13">SbFT2</text></g>
<g id="n-ZmFT3"><path class="dl" d="M997 0H1091" transform="rotate(42.7)"/><text class="R" transform="rotate(42.7) translate(1228)" y="13">ZmFT3</text></g>
<g id="n-SlFT"><path class="dl" d="M997 0H1135" transform="rotate(46.3)"/><text class="R" transform="rotate(46.3) translate(1228)" y="13">SlFT</text></g>
<g id="n-StFT"><path class="dl" d="M997 0H1133" transform="rotate(49.9)"/><text class="R" transform="rotate(49.9) translate(1228)" y="13">StFT</text></g>
<g id="n-AtFT"><path class="dl" d="M997 0H1131" transform="rotate(53.6)"/><text class="R" transform="rotate(53.6) translate(1228)" y="13">AtFT</text></g>
<g id="n-VvFT"><path class="dl" d="M997 0H1124" transform="rotate(57.3)"/><text class="R" transform="rotate(57.3) translate(1228)" y="13">VvFT</text></g>
<g id="n-GmFT"><path class="dl" d="M997 0H1106" transform="rotate(60.9)"/><text class="R" transform="rotate(60.9) translate(1228)" y="13">GmFT</text></g>
<g id="n-SsFT2"><path class="dl" d="M997 0H1102" transform="rotate(64.5)"/><text class="R" transform="rotate(64.5) translate(1228)" y="13">SsFT2</text></g>
<g id="n-ZmFT6"><path class="dl" d="M997 0H1091" transform="rotate(68.1)"/><text class="R" transform="rotate(68.1) translate(1228)" y="13">ZmFT6</text></g>
<g id="n-PdFT"><path class="dl" d="M997 0H1122" transform="rotate(71.8)"/><text class="R" transform="rotate(71.8) translate(1228)" y="13">PdFT</text></g>
<g id="n-EgFT"><path class="dl" d="M997 0H1122" transform="rotate(79)"/><text class="R" transform="rotate(79) translate(1228)" y="13">EgFT</text></g>
<g id="n-StSPCH"><path class="dl" d="M997 0H1071" transform="rotate(86.4)"/><text class="R" transform="rotate(86.4) translate(1228)" y="13">StSPCH</text></g>
<g id="n-SlSPCH"><path class="dl" d="M997 0H1073" transform="rotate(90)"/><text transform="rotate(90) translate(1228) rotate(180)" y="13">SlSPCH</text></g>
<g id="n-PdSPCH"><path class="dl" d="M997 0H1060" transform="rotate(93.65)"/><text transform="rotate(93.65) translate(1228) rotate(180)" y="13">PdSPCH</text></g>
<g id="n-EgSPCH"><path class="dl" d="M997 0H1060" transform="rotate(97.25)"/><text transform="rotate(97.25) translate(1228) rotate(180)" y="13">EgSPCH</text></g>
<g id="n-AtSPCH"><path class="dl" d="M997 0H1069" transform="rotate(101)"/><text transform="rotate(101) translate(1228) rotate(180)" y="13">AtSPCH</text></g>
<g id="n-VvSPCH"><path class="dl" d="M997 0H1062" transform="rotate(104.6)"/><text transform="rotate(104.6) translate(1228) rotate(180)" y="13">VvSPCH</text></g>
<g id="n-GmSPCH2"><path class="dl" d="M997 0H1022" transform="rotate(108.2)"/><text transform="rotate(108.2) translate(1228) rotate(180)" y="13">GmSPCH2</text></g>
<g id="n-GmSPCH1"><path class="dl" d="M997 0H1022" transform="rotate(111.8)"/><text transform="rotate(111.8) translate(1228) rotate(180)" y="13">GmSPCH1</text></g>
<g id="n-ZmSPCH2"><path class="dl" d="M997 0H1029" transform="rotate(115.4)"/><text transform="rotate(115.4) translate(1228) rotate(180)" y="13">ZmSPCH2</text></g>
<g id="n-SbSPCH2"><path class="dl" d="M997 0H1037.5" transform="rotate(119.1)"/><text transform="rotate(119.1) translate(1228) rotate(180)" y="13">SbSPCH2</text></g>
<g id="n-SsSPCH2-2"><path class="dl" d="M997 0H1004" transform="rotate(122.8)"/><text transform="rotate(122.8) translate(1228) rotate(180)" y="13">SsSPCH2-2</text></g>
<g id="n-SsSPCH2-1"><path class="dl" d="M997 0H1004" transform="rotate(126.3)"/><text transform="rotate(126.3) translate(1228) rotate(180)" y="13">SsSPCH2-1</text></g>
<g id="n-Osj-SPCH"><path class="dl" d="M997 0H1024" transform="rotate(130)"/><text transform="rotate(130) translate(1228) rotate(180)" y="13">Os.j SPCH</text></g>
<g id="n-SbSPCH1"><path class="dl" d="M997 0H1037.5" transform="rotate(133.6)"/><text transform="rotate(133.6) translate(1228) rotate(180)" y="13">SbSPCH1</text></g>
<g id="n-ZmSPCH3"><path class="dl" d="M997 0H1029" transform="rotate(137.2)"/><text transform="rotate(137.2) translate(1228) rotate(180)" y="13">ZmSPCH3</text></g>
<g id="n-ZmSPCH1"><path class="dl" d="M997 0H1029" transform="rotate(140.8)"/><text transform="rotate(140.8) translate(1228) rotate(180)" y="13">ZmSPCH1</text></g>
<g id="n-SsSPCH1-1"><path class="dl" d="M997 0H1004" transform="rotate(144.5)"/><text transform="rotate(144.5) translate(1228) rotate(180)" y="13">SsSPCH1-1</text></g>
<g id="n-SsSPCH1-3"><path class="dl" d="M997 0H1004" transform="rotate(148.1)"/><text transform="rotate(148.1) translate(1228) rotate(180)" y="13">SsSPCH1-3</text></g>
<g id="n-SsSPCH1-2"><path class="dl" d="M997 0H1004" transform="rotate(151.9)"/><text transform="rotate(151.9) translate(1228) rotate(180)" y="13">SsSPCH1-2</text></g>
<g id="n-SsSPCH1-4"><path class="dl" d="M997 0H1004" transform="rotate(155.45)"/><text transform="rotate(155.45) translate(1228) rotate(180)" y="13">SsSPCH1-4</text></g>
</g>
</g>
<g id="legend-bootstrap">
<rect x="3" y="184" width="239" height="548" fill="#fff" stroke="#eeeeee" stroke-width="2"/>
<text class="bs" x="121" y="233" text-anchor="middle" font-weight="bold" font-size="45">bootstrap</text>
<line x1="10" y1="258" x2="234" y2="258" stroke="#333" stroke-width="2"/>
<polygon points="40,310 54,303 54,317" fill="#ff0000" stroke="#700" stroke-width="1"/>
<polygon points="38,402 57,392.5 57,411.5" fill="#ff0000" stroke="#700" stroke-width="1"/>
<polygon points="35,494 59,482 59,506" fill="#ff0000" stroke="#700" stroke-width="1"/>
<polygon points="32,586 61,571.5 61,600.5" fill="#ff0000" stroke="#700" stroke-width="1"/>
<polygon points="30,677 64,660 64,694" fill="#ff0000" stroke="#700" stroke-width="1"/>
<text class="bs" x="108" y="325" font-size="45">0.05</text>
<text class="bs" x="108" y="417" font-size="45">0.29</text>
<text class="bs" x="108" y="509" font-size="45">0.53</text>
<text class="bs" x="108" y="601" font-size="45">0.76</text>
<text class="bs" x="108" y="692" font-size="45">1</text>
</g>
<g id="legend-c4c3">
<line x1="2272" y1="43" x2="2403" y2="43" stroke="#0000ff" stroke-width="8"/>
<text class="leg" x="2437" y="68" font-size="64">C4</text>
<line x1="2272" y1="178" x2="2403" y2="178" stroke="#00ff00" stroke-width="8"/>
<text class="leg" x="2437" y="202" font-size="64">C3</text>
</g>
<g id="legend-groups">
<line x1="16" y1="1994" x2="16" y2="2375" stroke="#d0d0d0" stroke-width="3"/>
<rect x="24" y="2001" width="82" height="82" rx="9" fill="#EA9999" stroke="#555" stroke-width="3"/>
<text class="leg" x="120" y="2064" font-size="63">SPCH</text>
<rect x="24" y="2094" width="82" height="82" rx="9" fill="#F9CB9C" stroke="#555" stroke-width="3"/>
<text class="leg" x="120" y="2167" font-size="63">MUTE</text>
<rect x="24" y="2188" width="82" height="82" rx="9" fill="#93C47D" stroke="#555" stroke-width="3"/>
<text class="leg" x="120" y="2257" font-size="63">FT</text>
<rect x="24" y="2281" width="82" height="82" rx="9" fill="#6FA8DC" stroke="#555" stroke-width="3"/>
<text class="leg" x="116" y="2337" font-size="63">FAMA</text>
</g>
</svg>
